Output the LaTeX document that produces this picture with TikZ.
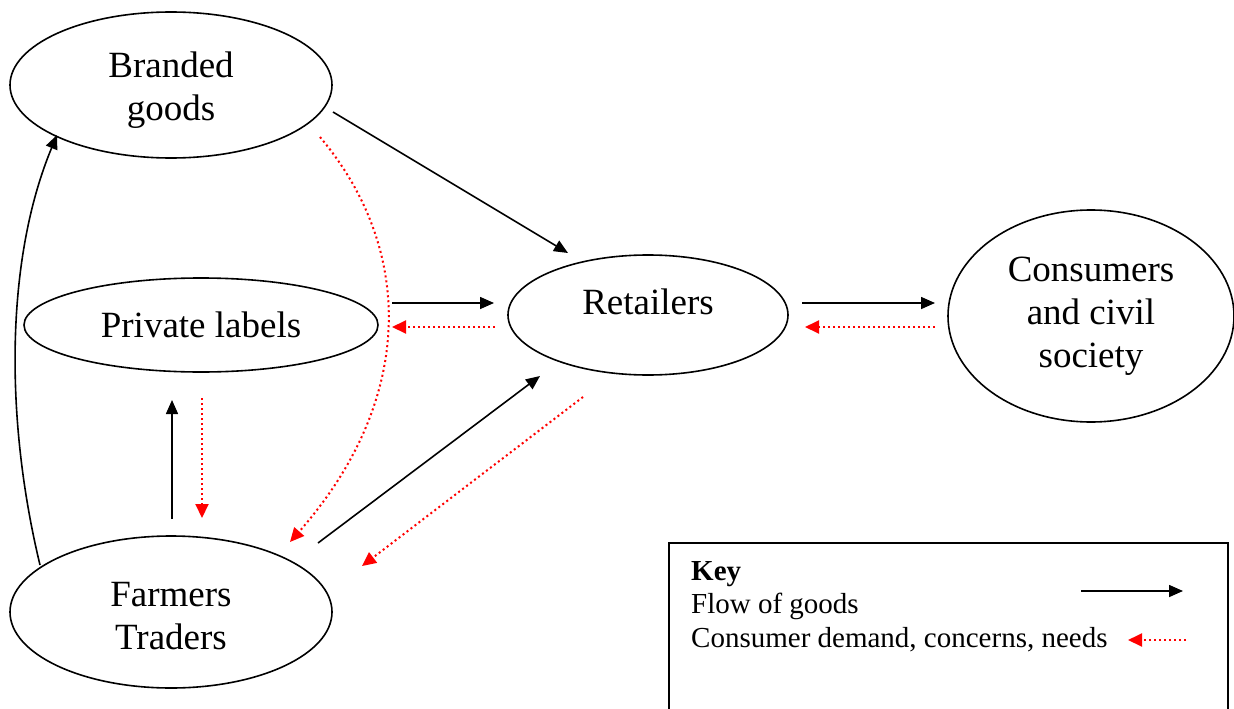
\documentclass[tikz,border=0pt]{standalone}
\usepackage{fontspec}
\setmainfont{Liberation Serif}
\usetikzlibrary{shapes.geometric,arrows.meta}
\newcommand{\shiftline}[2]{\raisebox{#1}[\height][\depth]{#2}}
\begin{document}
\begin{tikzpicture}[x=1pt,y=-1pt,
  ell/.style={draw,ellipse,line width=1.6pt,inner sep=0pt,align=center,font=\fontsize{37}{43}\selectfont},
  goods/.style={line width=1.6pt,-{Triangle[length=14pt,width=12pt]}},
  demand/.style={red,line width=2pt,dash pattern=on 2pt off 3pt,-{Triangle[length=14pt,width=13pt]}},
  keytext/.style={anchor=west,font=\fontsize{29}{33}\selectfont,inner sep=0pt}]
\useasboundingbox (0,0) rectangle (1234,709);
\node[ell,minimum width=322pt,minimum height=146pt] (brand) at (171,85) {\shiftline{-5pt}{Branded}\\\shiftline{-5pt}{goods}};
\node[ell,minimum width=354pt,minimum height=94pt] (priv) at (201,325) {Private labels};
\node[ell,minimum width=280pt,minimum height=120pt] (ret) at (648,315) {\shiftline{13pt}{Retailers}};
\node[ell,minimum width=286pt,minimum height=212pt] (cons) at (1091,316) {Consumers\\and civil\\society};
\node[ell,minimum width=322pt,minimum height=152pt] (farm) at (171,612) {\shiftline{-4pt}{Farmers}\\\shiftline{-4pt}{Traders}};
% coordinates
\coordinate (a1) at (333,112); \coordinate (a2) at (568,253);
\coordinate (b1) at (320,137); \coordinate (b2) at (290,542);
\coordinate (c1) at (392,303); \coordinate (c2) at (494,303);
\coordinate (d1) at (495,327); \coordinate (d2) at (392,327);
\coordinate (e1) at (802,303); \coordinate (e2) at (935,303);
\coordinate (f1) at (935,327); \coordinate (f2) at (805,327);
\coordinate (g1) at (172,519); \coordinate (g2) at (172,400);
\coordinate (h1) at (202,398); \coordinate (h2) at (202,518);
\coordinate (i1) at (318,543); \coordinate (i2) at (540,376);
\coordinate (j1) at (583,397); \coordinate (j2) at (362,566);
\coordinate (k1) at (40,565); \coordinate (k2) at (57,135);
\draw[goods] (a1) -- (a2);
\draw[demand] (b1) .. controls (415,250) and (415,400) .. (b2);
\draw[goods] (c1) -- (c2);
\draw[demand] (d1) -- (d2);
\draw[goods] (e1) -- (e2);
\draw[demand] (f1) -- (f2);
\draw[goods] (g1) -- (g2);
\draw[demand] (h1) -- (h2);
\draw[goods] (i1) -- (i2);
\draw[demand] (j1) -- (j2);
\draw[goods] (k1) .. controls (5,420) and (5,260) .. (k2);
% key
\draw[line width=1.6pt] (669,760) -- (669,543) -- (1228,543) -- (1228,760);
\node[keytext,font=\fontsize{29}{33}\selectfont\bfseries] (key) at (691,574) {Key};
\node[keytext] (kg) at (691,606) {Flow of goods};
\node[keytext] (kd) at (691,640) {Consumer demand, concerns, needs};
\coordinate (m1) at (1081,591); \coordinate (m2) at (1183,591);
\coordinate (n1) at (1186,640); \coordinate (n2) at (1128,640);
\draw[goods] (m1) -- (m2);
\draw[demand] (n1) -- (n2);
\end{tikzpicture}
\end{document}
